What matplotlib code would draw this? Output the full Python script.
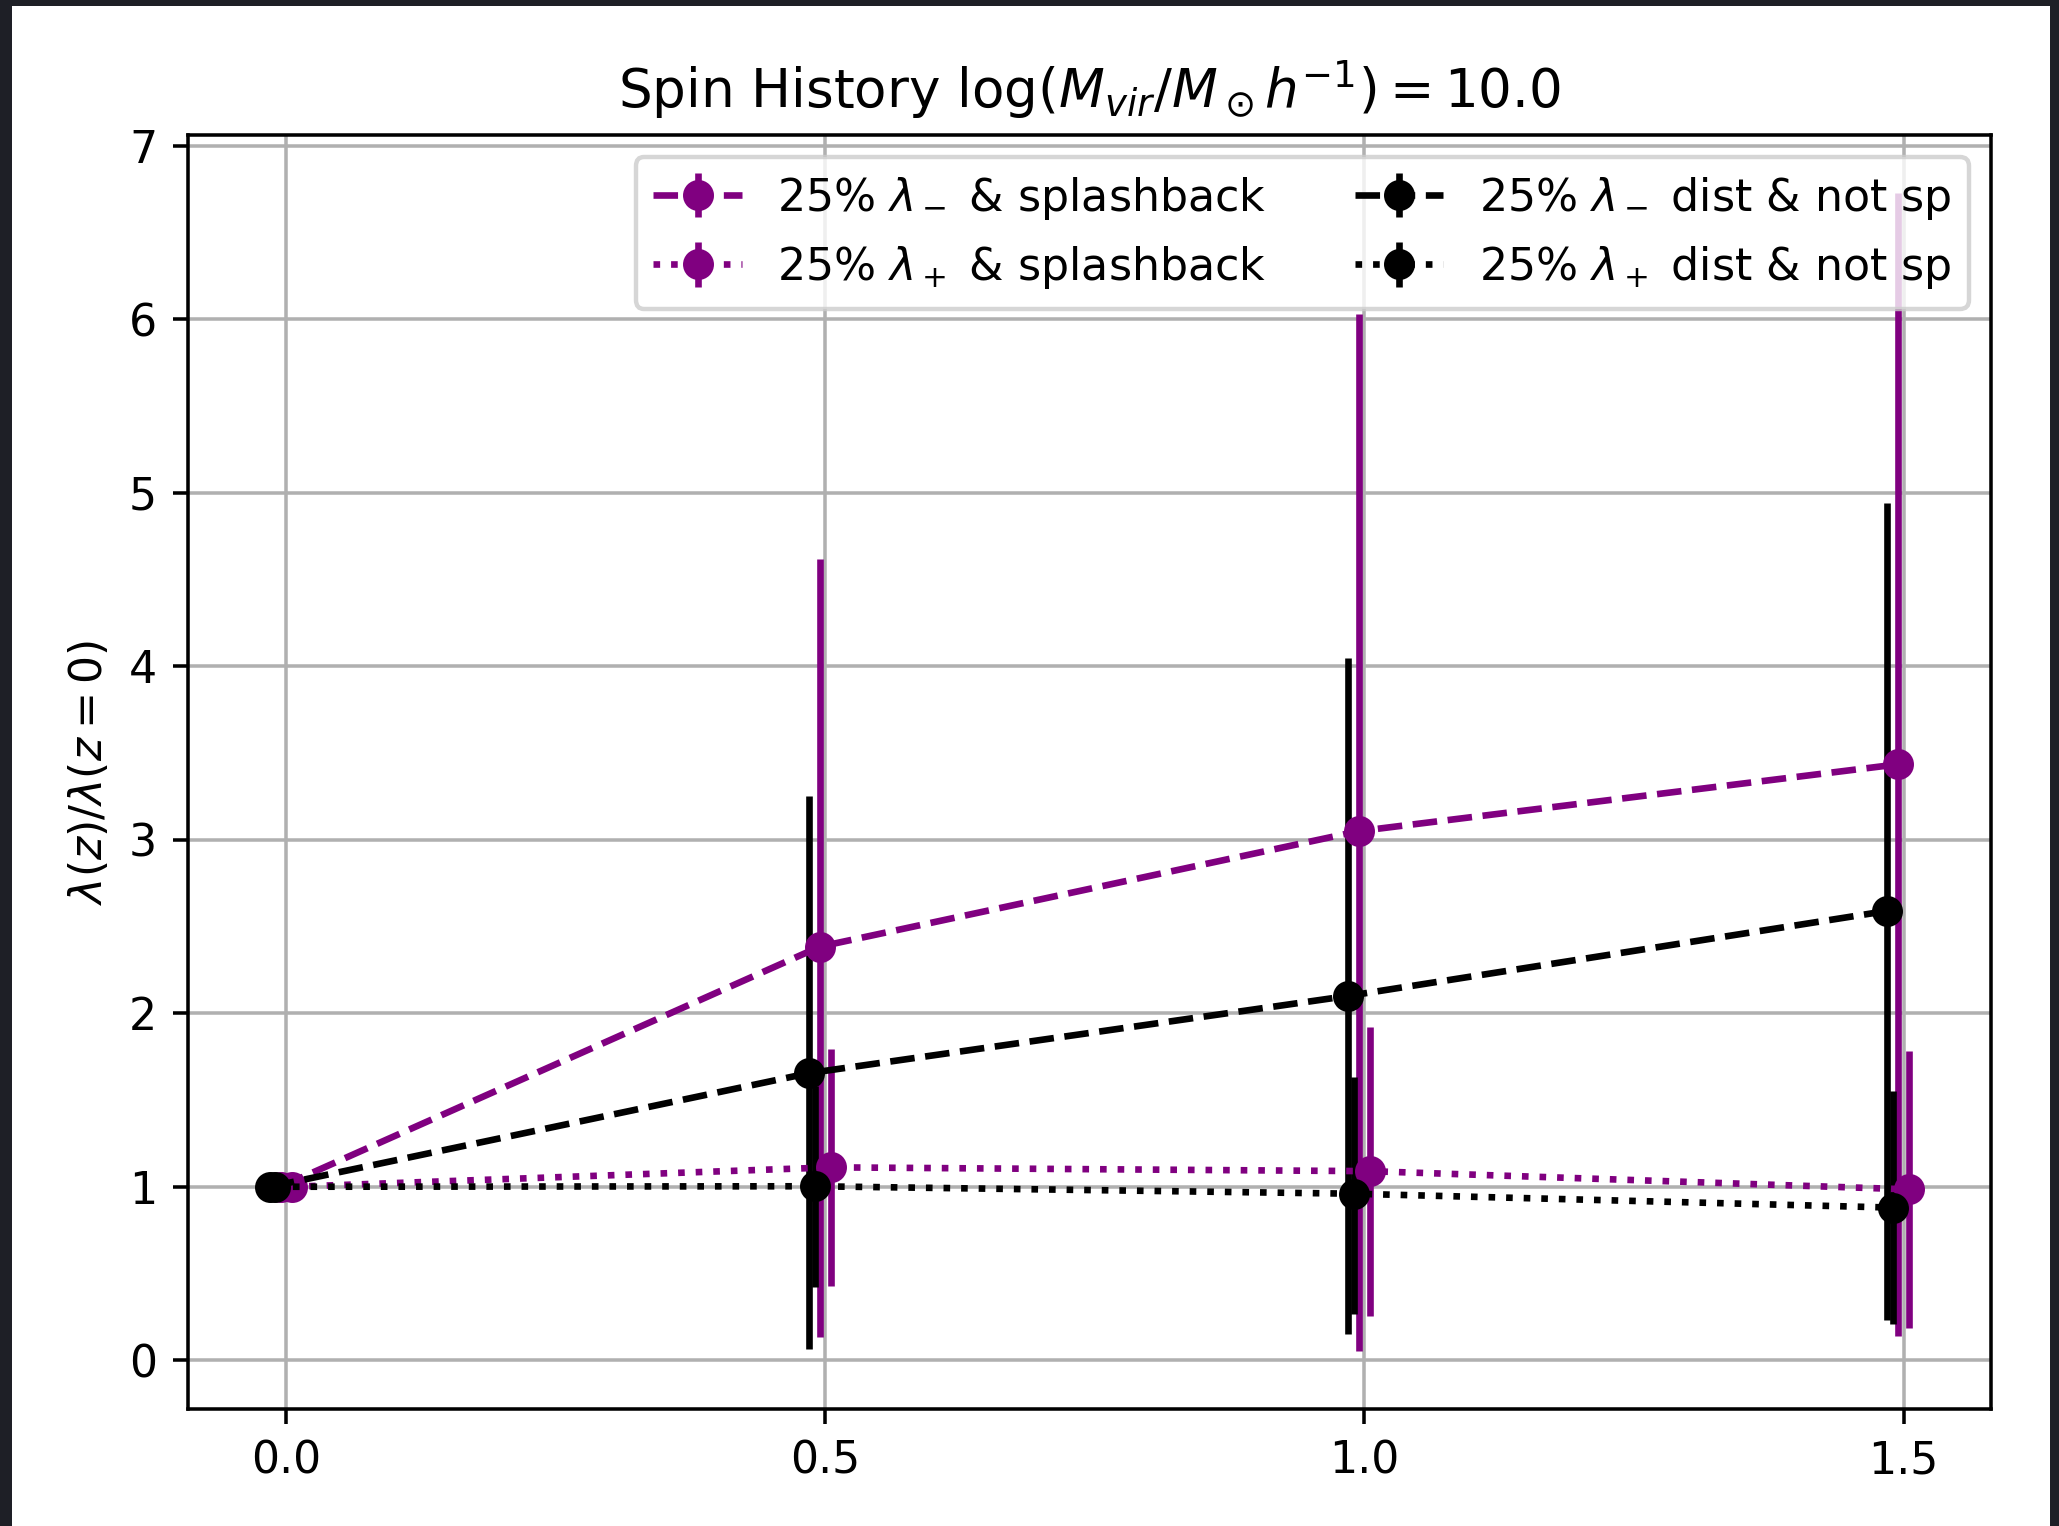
import matplotlib
matplotlib.use("Agg")
import matplotlib.pyplot as plt
from matplotlib.patches import Rectangle
import numpy as np

# ---- data ----
z = [0.0, 0.5, 1.0, 1.5]

sp_minus_y    = [1.0, 2.384, 3.05, 3.435]
sp_minus_low  = [1.0, 0.135, 0.053, 0.139]
sp_minus_high = [1.0, 4.62, 6.03, 6.728]

sp_plus_y     = [1.0, 1.112, 1.09, 0.985]
sp_plus_low   = [1.0, 0.431, 0.253, 0.185]
sp_plus_high  = [1.0, 1.795, 1.92, 1.78]

ns_minus_y    = [1.0, 1.655, 2.10, 2.59]
ns_minus_low  = [1.0, 0.063, 0.15, 0.23]
ns_minus_high = [1.0, 3.25, 4.05, 4.94]

ns_plus_y     = [1.0, 1.003, 0.96, 0.88]
ns_plus_low   = [1.0, 0.42, 0.265, 0.21]
ns_plus_high  = [1.0, 1.58, 1.63, 1.55]

labels = [r'25% $\lambda_-$ & splashback',
          r'25% $\lambda_+$ & splashback',
          r'25% $\lambda_-$ dist & not sp',
          r'25% $\lambda_+$ dist & not sp']
xtick_vals = [0.0, 0.5, 1.0, 1.5]
title = r'Spin History $\log(M_{vir}/M_\odot h^{-1}) = 10.0$'
ylabel = r'$\lambda(z)/\lambda(z=0)$'

# ---- figure ----
DPI = 318.5
W, H = 2059, 1526
fig = plt.figure(figsize=(W / DPI, H / DPI), dpi=DPI, facecolor='#1e1f26')
fig.patches.append(Rectangle((12 / W, 0), (2050 - 12) / W, (H - 6) / H,
                             transform=fig.transFigure, facecolor='white',
                             edgecolor='none', zorder=-1))
ax = fig.add_axes([188 / W, 1 - 1409 / H, (1991 - 188) / W, (1409 - 135) / H])

zz = np.array(z)

def err(y, lo, hi):
    y = np.array(y); lo = np.array(lo); hi = np.array(hi)
    return y, np.vstack([y - lo, hi - y])

series = [
    (sp_minus_y, sp_minus_low, sp_minus_high, -0.005, 'purple', 'o--', labels[0]),
    (sp_plus_y, sp_plus_low, sp_plus_high, 0.005, 'purple', 'o:', labels[1]),
    (ns_minus_y, ns_minus_low, ns_minus_high, -0.015, 'black', 'o--', labels[2]),
    (ns_plus_y, ns_plus_low, ns_plus_high, -0.010, 'black', 'o:', labels[3]),
]
for y, lo, hi, off, col, fmt, lab in series:
    yy, e = err(y, lo, hi)
    ax.errorbar(zz + off, yy, yerr=e, fmt=fmt, color=col, label=lab)

ax.set_xticks(xtick_vals)
ax.grid(True)
ax.set_title(title, fontsize=12)
ax.set_ylabel(ylabel)
ax.legend(loc='upper right', ncol=2)

fig.savefig('out.png', dpi=DPI, facecolor=fig.get_facecolor())
